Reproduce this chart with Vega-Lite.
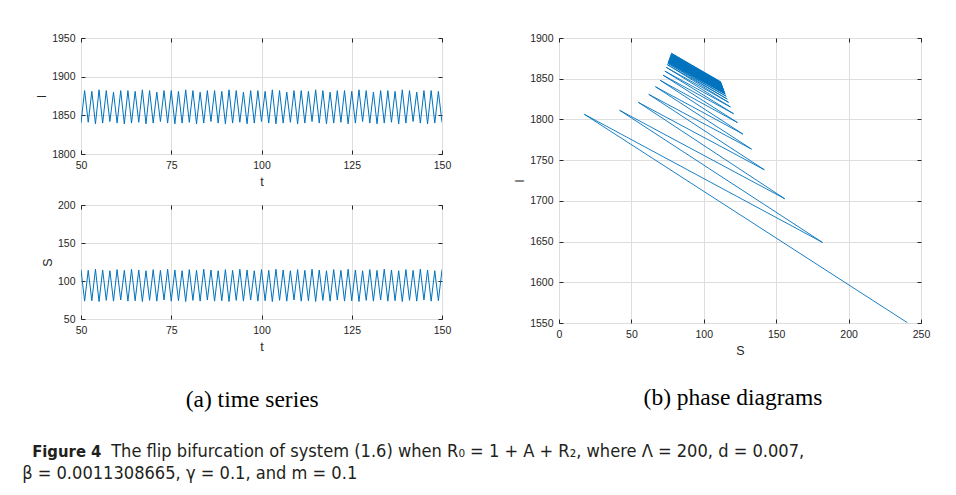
{
  "$schema": "https://vega.github.io/schema/vega-lite/v6.json",
  "background": "white",
  "padding": {"left": 22, "top": 32, "right": 5, "bottom": 5},
  "datasets": {
    "ts": [
      {"t":50,"I":1840,"S":115},{"t":51,"I":1882,"S":73.5},{"t":52,"I":1841,"S":114},{"t":53,"I":1881,"S":74},{"t":54,"I":1839,"S":115.5},{"t":55,"I":1883,"S":73},{"t":56,"I":1840,"S":114.5},{"t":57,"I":1882,"S":74.5},{"t":58,"I":1842,"S":113.5},{"t":59,"I":1880,"S":73.5},
      {"t":60,"I":1840,"S":115},{"t":61,"I":1882,"S":75},{"t":62,"I":1839,"S":114},{"t":63,"I":1882,"S":73.5},{"t":64,"I":1840,"S":115.5},{"t":65,"I":1881,"S":74},{"t":66,"I":1841,"S":114.5},{"t":67,"I":1883,"S":73},{"t":68,"I":1839,"S":113.5},{"t":69,"I":1882,"S":74.5},
      {"t":70,"I":1840,"S":115},{"t":71,"I":1880,"S":73.5},{"t":72,"I":1842,"S":114},{"t":73,"I":1882,"S":75},{"t":74,"I":1840,"S":115.5},{"t":75,"I":1882,"S":73.5},{"t":76,"I":1839,"S":114.5},{"t":77,"I":1881,"S":74},{"t":78,"I":1840,"S":113.5},{"t":79,"I":1883,"S":73},
      {"t":80,"I":1841,"S":115},{"t":81,"I":1882,"S":74.5},{"t":82,"I":1839,"S":114},{"t":83,"I":1880,"S":73.5},{"t":84,"I":1840,"S":115.5},{"t":85,"I":1882,"S":75},{"t":86,"I":1842,"S":114.5},{"t":87,"I":1882,"S":73.5},{"t":88,"I":1840,"S":113.5},{"t":89,"I":1881,"S":74},
      {"t":90,"I":1839,"S":115},{"t":91,"I":1883,"S":73},{"t":92,"I":1840,"S":114},{"t":93,"I":1882,"S":74.5},{"t":94,"I":1841,"S":115.5},{"t":95,"I":1880,"S":73.5},{"t":96,"I":1839,"S":114.5},{"t":97,"I":1882,"S":75},{"t":98,"I":1840,"S":113.5},{"t":99,"I":1882,"S":73.5},
      {"t":100,"I":1842,"S":115},{"t":101,"I":1881,"S":74},{"t":102,"I":1840,"S":114},{"t":103,"I":1883,"S":73},{"t":104,"I":1839,"S":115.5},{"t":105,"I":1882,"S":74.5},{"t":106,"I":1840,"S":114.5},{"t":107,"I":1880,"S":73.5},{"t":108,"I":1841,"S":113.5},{"t":109,"I":1882,"S":75},
      {"t":110,"I":1839,"S":115},{"t":111,"I":1882,"S":73.5},{"t":112,"I":1840,"S":114},{"t":113,"I":1881,"S":74},{"t":114,"I":1842,"S":115.5},{"t":115,"I":1883,"S":73},{"t":116,"I":1840,"S":114.5},{"t":117,"I":1882,"S":74.5},{"t":118,"I":1839,"S":113.5},{"t":119,"I":1880,"S":73.5},
      {"t":120,"I":1840,"S":115},{"t":121,"I":1882,"S":75},{"t":122,"I":1841,"S":114},{"t":123,"I":1882,"S":73.5},{"t":124,"I":1839,"S":115.5},{"t":125,"I":1881,"S":74},{"t":126,"I":1840,"S":114.5},{"t":127,"I":1883,"S":73},{"t":128,"I":1842,"S":113.5},{"t":129,"I":1882,"S":74.5},
      {"t":130,"I":1840,"S":115},{"t":131,"I":1880,"S":73.5},{"t":132,"I":1839,"S":114},{"t":133,"I":1882,"S":75},{"t":134,"I":1840,"S":115.5},{"t":135,"I":1882,"S":73.5},{"t":136,"I":1841,"S":114.5},{"t":137,"I":1881,"S":74},{"t":138,"I":1839,"S":113.5},{"t":139,"I":1883,"S":73},
      {"t":140,"I":1840,"S":115},{"t":141,"I":1882,"S":74.5},{"t":142,"I":1842,"S":114},{"t":143,"I":1880,"S":73.5},{"t":144,"I":1840,"S":115.5},{"t":145,"I":1882,"S":75},{"t":146,"I":1839,"S":114.5},{"t":147,"I":1882,"S":73.5},{"t":148,"I":1840,"S":113.5},{"t":149,"I":1881,"S":74},
      {"t":150,"I":1841,"S":115}
    ],
    "phase": [
      {"k":1,"S":240.5,"I":1550.5},{"k":2,"S":17.5,"I":1806.3},{"k":3,"S":181.9,"I":1649},{"k":4,"S":41.9,"I":1811.2},{"k":5,"S":155.9,"I":1702.6},
      {"k":6,"S":54.8,"I":1821},{"k":7,"S":141.8,"I":1738.2},{"k":8,"S":62,"I":1830.8},{"k":9,"S":133,"I":1763.5},{"k":10,"S":66.6,"I":1840.2},
      {"k":11,"S":127,"I":1782},{"k":12,"S":69.9,"I":1848},{"k":13,"S":123.2,"I":1796.2},{"k":14,"S":71.9,"I":1854.3},{"k":15,"S":120.6,"I":1807},
      {"k":16,"S":73.1,"I":1859.3},{"k":17,"S":118.4,"I":1815.3},{"k":18,"S":74.1,"I":1864},{"k":19,"S":117.1,"I":1821},{"k":20,"S":74.8,"I":1867.3},
      {"k":21,"S":116.2,"I":1825},{"k":22,"S":75.1,"I":1869},{"k":23,"S":115.5,"I":1828.5},{"k":24,"S":75.3,"I":1870},{"k":25,"S":114.9,"I":1831.2},
      {"k":26,"S":75.45,"I":1870.8},{"k":27,"S":114.7,"I":1832.2},{"k":28,"S":75.6,"I":1871.5},{"k":29,"S":114.5,"I":1833.2},{"k":30,"S":75.75,"I":1872.3},
      {"k":31,"S":114.3,"I":1834.2},{"k":32,"S":75.9,"I":1873},{"k":33,"S":114.1,"I":1835.2},{"k":34,"S":76.05,"I":1873.8},{"k":35,"S":113.9,"I":1836.2},
      {"k":36,"S":76.2,"I":1874.5},{"k":37,"S":113.7,"I":1837.2},{"k":38,"S":76.35,"I":1875.2},{"k":39,"S":113.5,"I":1838.2},{"k":40,"S":76.5,"I":1876},
      {"k":41,"S":113.3,"I":1839.2},{"k":42,"S":76.65,"I":1876.7},{"k":43,"S":113.1,"I":1840.2},{"k":44,"S":76.8,"I":1877.4},{"k":45,"S":112.9,"I":1841.2},
      {"k":46,"S":76.95,"I":1878.1},{"k":47,"S":112.7,"I":1842.2},{"k":48,"S":77.1,"I":1878.8},{"k":49,"S":112.5,"I":1843.2},{"k":50,"S":77.25,"I":1879.5},
      {"k":51,"S":112.2,"I":1844.2},{"k":52,"S":77.4,"I":1880.3},{"k":53,"S":112,"I":1845.2},{"k":54,"S":77.6,"I":1881.2},{"k":55,"S":111.7,"I":1846.3}
    ]
  },
  "config": {
    "font": "Liberation Sans",
    "view": {"stroke": "#262626", "strokeWidth": 1},
    "axis": {
      "domain": false, "grid": true, "gridColor": "#dedede", "gridWidth": 1,
      "tickColor": "#262626", "tickSize": -4, "tickWidth": 1, "labelPadding": 10,
      "labelFont": "Liberation Sans", "labelFontSize": 10.5, "labelColor": "#262626",
      "labelFlush": false, "labelOverlap": false, "format": "d",
      "titleFont": "Liberation Sans", "titleFontSize": 12.5, "titleFontWeight": "normal", "titleColor": "#262626"
    }
  },
  "title": {
    "text": "β = 0.0011308665, γ = 0.1, and m = 0.1",
    "orient": "bottom", "anchor": "start", "dx": -10, "offset": 18, "baseline": "alphabetic",
    "font": "DejaVu Sans Condensed, Open Sans", "fontSize": 18.1, "fontWeight": "normal", "color": "#231f20"
  },
  "vconcat": [
    {
      "title": {
        "text": "The flip bifurcation of system (1.6) when R₀ = 1 + A + R₂, where Λ = 200, d = 0.007,",
        "orient": "bottom", "anchor": "start", "dx": 79, "offset": -4, "baseline": "alphabetic",
        "font": "DejaVu Sans Condensed, Open Sans", "fontSize": 18.1, "fontWeight": "normal", "color": "#231f20"
      },
      "vconcat": [
        {
          "title": {
            "text": "Figure 4",
            "orient": "bottom", "anchor": "start", "dx": -3, "offset": 46, "baseline": "alphabetic",
            "font": "DejaVu Sans Condensed, Open Sans", "fontSize": 16.5, "fontWeight": "bold", "color": "#231f20"
          },
          "spacing": 61,
          "hconcat": [
            {
              "title": {"text": "(a)  time series", "orient": "bottom", "anchor": "middle", "dx": 9, "offset": 34, "font": "Liberation Serif", "fontSize": 23.5, "fontWeight": "normal", "color": "black"},
              "spacing": 10,
              "vconcat": [
                {
                  "width": 361, "height": 116,
                  "data": {"name": "ts"},
                  "layer": [
                    {
                      "mark": {"type": "line", "color": "#0072BD", "strokeWidth": 1, "clip": true},
                      "encoding": {
                        "x": {"field": "t", "type": "quantitative", "scale": {"domain": [50, 150], "nice": false}, "axis": {"values": [50, 75, 100, 125, 150], "title": "t", "titlePadding": 5}},
                        "y": {"field": "I", "type": "quantitative", "scale": {"domain": [1800, 1950], "nice": false, "zero": false}, "axis": {"values": [1800, 1850, 1900, 1950], "title": "I", "titlePadding": 3}}
                      }
                    },
                    {
                      "mark": {"type": "line", "strokeOpacity": 0},
                      "encoding": {
                        "x": {"field": "t", "type": "quantitative", "axis": {"orient": "top", "values": [50, 75, 100, 125, 150], "labels": false, "title": null, "grid": false}},
                        "y": {"field": "I", "type": "quantitative", "axis": {"orient": "right", "values": [1800, 1850, 1900, 1950], "labels": false, "title": null, "grid": false}}
                      }
                    }
                  ],
                  "resolve": {"axis": {"x": "independent", "y": "independent"}}
                },
                {
                  "width": 361, "height": 114,
                  "data": {"name": "ts"},
                  "layer": [
                    {
                      "mark": {"type": "line", "color": "#0072BD", "strokeWidth": 1, "clip": true},
                      "encoding": {
                        "x": {"field": "t", "type": "quantitative", "scale": {"domain": [50, 150], "nice": false}, "axis": {"values": [50, 75, 100, 125, 150], "title": "t", "titlePadding": 5}},
                        "y": {"field": "S", "type": "quantitative", "scale": {"domain": [50, 200], "nice": false, "zero": false}, "axis": {"values": [50, 100, 150, 200], "title": "S", "titlePadding": 3}}
                      }
                    },
                    {
                      "mark": {"type": "line", "strokeOpacity": 0},
                      "encoding": {
                        "x": {"field": "t", "type": "quantitative", "axis": {"orient": "top", "values": [50, 75, 100, 125, 150], "labels": false, "title": null, "grid": false}},
                        "y": {"field": "S", "type": "quantitative", "axis": {"orient": "right", "values": [50, 100, 150, 200], "labels": false, "title": null, "grid": false}}
                      }
                    }
                  ],
                  "resolve": {"axis": {"x": "independent", "y": "independent"}}
                }
              ]
            },
            {
              "title": {"text": "(b)  phase diagrams", "orient": "bottom", "anchor": "middle", "dx": -7, "offset": 29, "font": "Liberation Serif", "fontSize": 23.5, "fontWeight": "normal", "color": "black"},
              "width": 362, "height": 285,
              "data": {"name": "phase"},
              "layer": [
                {
                  "mark": {"type": "line", "color": "#0072BD", "strokeWidth": 0.9, "clip": true},
                  "encoding": {
                    "order": {"field": "k", "type": "quantitative"},
                    "x": {"field": "S", "type": "quantitative", "scale": {"domain": [0, 250], "nice": false}, "axis": {"values": [0, 50, 100, 150, 200, 250], "title": "S", "titlePadding": 5}},
                    "y": {"field": "I", "type": "quantitative", "scale": {"domain": [1550, 1900], "nice": false, "zero": false}, "axis": {"values": [1550, 1600, 1650, 1700, 1750, 1800, 1850, 1900], "title": "I", "titlePadding": 3}}
                  }
                },
                {
                  "mark": {"type": "line", "strokeOpacity": 0},
                  "encoding": {
                    "order": {"field": "k", "type": "quantitative"},
                    "x": {"field": "S", "type": "quantitative", "axis": {"orient": "top", "values": [0, 50, 100, 150, 200, 250], "labels": false, "title": null, "grid": false}},
                    "y": {"field": "I", "type": "quantitative", "axis": {"orient": "right", "values": [1550, 1600, 1650, 1700, 1750, 1800, 1850, 1900], "labels": false, "title": null, "grid": false}}
                  }
                }
              ],
              "resolve": {"axis": {"x": "independent", "y": "independent"}}
            }
          ]
        }
      ]
    }
  ]
}
